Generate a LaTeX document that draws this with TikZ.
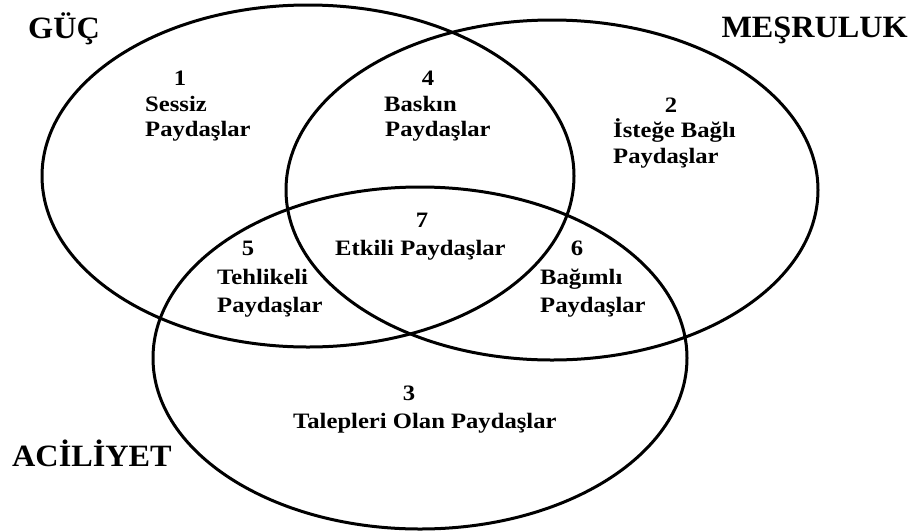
\documentclass[tikz,border=0pt]{standalone}
\usepackage{fontspec}
\setmainfont{Liberation Serif}
\newfontfamily\lblfont[FakeStretch=1.12]{Liberation Serif}
\newfontfamily\bigfont[FakeStretch=1.04]{Liberation Serif}
\begin{document}
\begin{tikzpicture}[x=1pt,y=-1pt,
  set/.style={draw=black,line width=3pt},
  txt/.style={inner sep=0pt,anchor=base west,font=\lblfont\bfseries\fontsize{22pt}{26pt}\selectfont},
  num/.style={inner sep=0pt,anchor=base,font=\lblfont\bfseries\fontsize{22pt}{26pt}\selectfont},
  title/.style={inner sep=0pt,anchor=base west,font=\bigfont\bfseries\fontsize{31pt}{36pt}\selectfont}]
\useasboundingbox (0,0) rectangle (916,531);
% ellipses
\draw[set] (308,176) ellipse [x radius=266, y radius=171];
\draw[set] (552,190) ellipse [x radius=266, y radius=170];
\draw[set] (420,358) ellipse [x radius=267, y radius=171];
% titles
\node[title] (guc) at (28,38) {GÜÇ};
\node[title,anchor=base east] (mes) at (908,37) {MEŞRULUK};
\node[title] (aci) at (12,466) {ACİLİYET};
% region 1
\node[num] (n1) at (180,85) {1};
\node[txt] (t1a) at (145,111) {Sessiz};
\node[txt] (t1b) at (145,136) {Paydaşlar};
% region 4
\node[num] (n4) at (428,85) {4};
\node[txt] (t4a) at (384,111) {Baskın};
\node[txt] (t4b) at (385,136) {Paydaşlar};
% region 2
\node[num] (n2) at (671,112) {2};
\node[txt] (t2a) at (613,137) {İsteğe Bağlı};
\node[txt] (t2b) at (613,163) {Paydaşlar};
% region 7
\node[num] (n7) at (422,227) {7};
\node[txt] (t7) at (335,255) {Etkili Paydaşlar};
% region 5
\node[num] (n5) at (248,255) {5};
\node[txt] (t5a) at (217,284) {Tehlikeli};
\node[txt] (t5b) at (217,312) {Paydaşlar};
% region 6
\node[num] (n6) at (577,255) {6};
\node[txt] (t6a) at (540,284) {Bağımlı};
\node[txt] (t6b) at (540,312) {Paydaşlar};
% region 3
\node[num] (n3) at (409,400) {3};
\node[txt] (t3) at (293,428) {Talepleri Olan Paydaşlar};
\end{tikzpicture}
\end{document}
